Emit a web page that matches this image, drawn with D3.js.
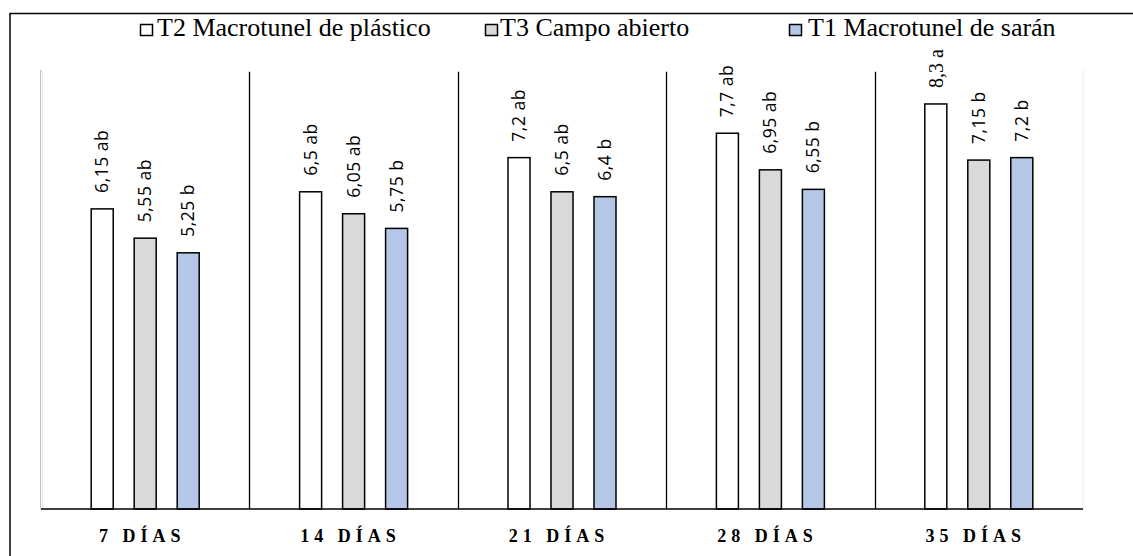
<!DOCTYPE html>
<html><head><meta charset="utf-8">
<script src="https://cdn.jsdelivr.net/npm/d3@7"></script>
<style>body{margin:0;background:#fff}svg{display:block}
.serif{font-family:"Liberation Serif",serif}
.sans{font-family:"Open Sans","Noto Sans",sans-serif}
</style>
</head><body>
<svg id="c" width="1133" height="556"></svg>
<script>
const categories = ["7 DÍAS","14 DÍAS","21 DÍAS","28 DÍAS","35 DÍAS"];
const seriesNames = ["T2 Macrotunel de plástico","T3 Campo abierto","T1 Macrotunel de sarán"];
const seriesColors = ["#ffffff","#d9d9d9","#b4c7e7"];
const t2Values = [6.15,6.5,7.2,7.7,8.3];
const t3Values = [5.55,6.05,6.5,6.95,7.15];
const t1Values = [5.25,5.75,6.4,6.55,7.2];
const t2Letters = ["ab","ab","ab","ab","a"];
const t3Letters = ["ab","ab","ab","ab","b"];
const t1Letters = ["b","b","b","b","b"];

const seriesVals = [t2Values,t3Values,t1Values];
const seriesLet = [t2Letters,t3Letters,t1Letters];
const fmt = v => String(v).replace(".", ",");

const svg = d3.select("#c");
const L=41, R=1083, B=509;
const y = d3.scaleLinear().domain([0,9]).range([B, B-9*48.8]);
const x0 = d3.scaleBand().domain(categories).range([L,R]).padding(0);
const x1 = d3.scaleBand().domain(d3.range(3)).range([-54,54]).paddingInner(0.488).paddingOuter(0);

svg.append("path").attr("d","M10,556 V13.5 H1133").attr("fill","none").attr("stroke","#000").attr("stroke-width",1.5);

svg.append("line").attr("x1",L-0.5).attr("x2",L-0.5).attr("y1",y(9)).attr("y2",B).attr("stroke","#bfbfbf").attr("stroke-width",1);
svg.append("line").attr("x1",L+1.5).attr("x2",L+1.5).attr("y1",y(9)).attr("y2",B).attr("stroke","#e3e3e3").attr("stroke-width",1);
svg.append("line").attr("x1",R).attr("x2",R).attr("y1",y(9)).attr("y2",B).attr("stroke","#ececec").attr("stroke-width",1);

categories.slice(1).forEach(c=>{
  const xx = Math.round(x0(c))+0.5;
  svg.append("line").attr("x1",xx).attr("x2",xx).attr("y1",y(9)+2).attr("y2",B).attr("stroke","#000").attr("stroke-width",1.3);
});

const g = svg.append("g");
categories.forEach((c,ci)=>{
  const cx = x0(c)+x0.bandwidth()/2;
  for(let s=0;s<3;s++){
    const v = seriesVals[s][ci];
    const bx = cx + x1(s);
    g.append("rect").attr("x",bx).attr("y",y(v)).attr("width",x1.bandwidth()).attr("height",B-y(v))
      .attr("fill",seriesColors[s]).attr("stroke","#000").attr("stroke-width",1.5);
    const special = (s===0 && ci===4);
    const tx = bx + x1.bandwidth()/2 + (special?7:6), ty = y(v)-16;
    const t = g.append("text").attr("transform",`translate(${tx},${ty}) rotate(-90)`)
      .attr("fill","#000").text(fmt(v)+" "+seriesLet[s][ci]);
    if(special){ t.attr("class","serif").attr("font-size",20); }
    else { t.attr("class","sans").attr("font-size",17.5).attr("letter-spacing","0.5px"); }
  }
  svg.append("text").attr("class","serif").attr("x",cx-3).attr("y",542).attr("text-anchor","middle")
    .attr("font-weight","bold").attr("font-size",18)
    .attr("letter-spacing","5px").text(c);
});

svg.append("line").attr("x1",L).attr("x2",R).attr("y1",B).attr("y2",B).attr("stroke","#000").attr("stroke-width",1.5);

const legSq = [140,485,789];
const legTx = [157,500,808];
seriesNames.forEach((n,i)=>{
  svg.append("rect").attr("x",legSq[i]+0.5).attr("y",24.5).attr("width",12).attr("height",11)
    .attr("fill",seriesColors[i]).attr("stroke","#000").attr("stroke-width",1.5);
  svg.append("text").attr("class","serif").attr("x",legTx[i]).attr("y",36)
    .attr("font-size",26).text(n);
});
</script>
</body></html>
